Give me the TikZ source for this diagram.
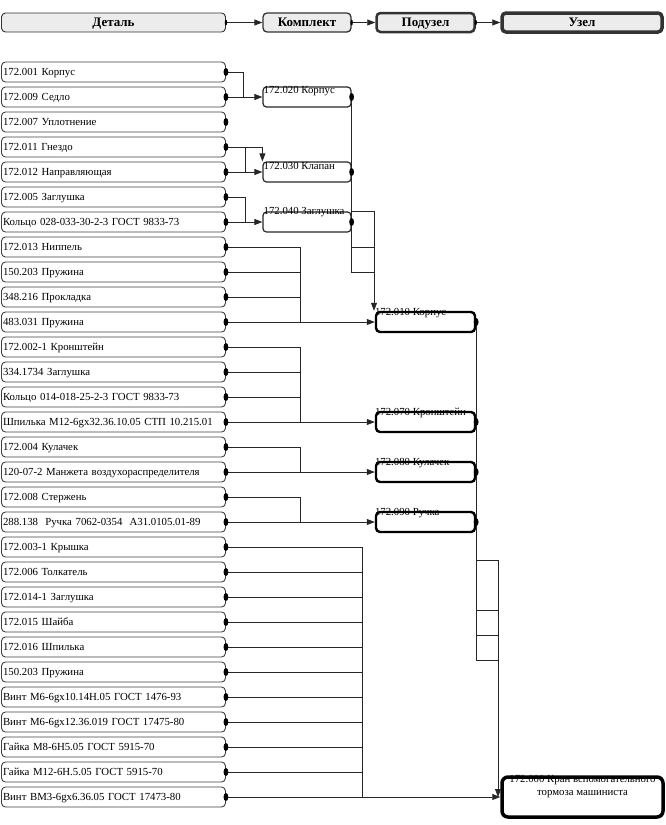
\documentclass[tikz,border=0pt]{standalone}
\usepackage{fontspec}
\setmainfont{Liberation Serif}
\usetikzlibrary{arrows.meta,calc}
\definecolor{hdrfill}{RGB}{236,236,236}
\newcommand\jdot[1]{\fill (#1) ellipse (2.4pt and 4pt);}
\newcommand\jstub[1]{\fill (#1) ellipse (1.2pt and 3pt);}
\begin{document}
\begin{tikzpicture}[x=1pt,y=-1pt,
  every node/.style={inner sep=0pt},
  conn/.style={line width=0.8pt, draw=black!85},
  conarrow/.style={-{Triangle[length=8pt,width=6pt]}},
  hbox/.style={draw=black!80, fill=hdrfill, rounded corners=4pt, minimum height=19pt, text height=9pt, text depth=2pt, font=\fontsize{13}{15}\selectfont\bfseries},
  dbox/.style={draw=black!75, line width=0.9pt, rounded corners=4pt, minimum width=224pt, minimum height=20pt, text width=221pt, text height=7pt, text depth=1pt, inner xsep=1.5pt, align=left, font=\fontsize{10.8}{12}\selectfont},
  kbox/.style={draw=black!85, line width=1.2pt, rounded corners=3.5pt, minimum width=88pt, minimum height=20pt},
  pbox/.style={draw=black, line width=2.4pt, rounded corners=4pt, minimum width=99pt, minimum height=20pt},
  ubox/.style={draw=black, line width=3.5pt, rounded corners=6pt, minimum width=161pt, minimum height=40pt},
  btext/.style={font=\fontsize{10.8}{12}\selectfont, anchor=west},
]
\useasboundingbox (0,0) rectangle (665,825);

% headers
\node[hbox, line width=0.9pt, minimum width=224pt] (h1) at (113.5,22.5) {Деталь};
\node[hbox, line width=1.3pt, minimum width=88pt] (h2) at (307,22.5) {Комплект};
\node[hbox, line width=2.5pt, minimum width=98pt] (h3) at (425.5,22.5) {Подузел};
\node[hbox, line width=3.5pt, minimum width=160pt] (h4) at (582,22.5) {Узел};
\draw[conn,conarrow] (h1.east) -- (h2.west);
\draw[conn,conarrow] (h2.east) -- (h3.west);
\draw[conn,conarrow] (h3.east) -- (h4.west);
\jstub{h1.east}\jstub{h2.east}\jstub{h3.east}

% details
\foreach \txt [count=\i] in {172.001 Корпус, 172.009 Седло, 172.007 Уплотнение, 172.011 Гнездо, 172.012 Направляющая, 172.005 Заглушка, Кольцо 028-033-30-2-3 ГОСТ 9833-73, 172.013 Ниппель, 150.203 Пружина, 348.216 Прокладка, 483.031 Пружина, 172.002-1 Кронштейн, 334.1734 Заглушка, Кольцо 014-018-25-2-3 ГОСТ 9833-73, Шпилька М12-6gх32.36.10.05 СТП 10.215.01, 172.004 Кулачек, 120-07-2 Манжета воздухораспределителя, 172.008 Стержень, 288.138\ \ Ручка 7062-0354\ \ А31.0105.01-89, 172.003-1 Крышка, 172.006 Толкатель, 172.014-1 Заглушка, 172.015 Шайба, 172.016 Шпилька, 150.203 Пружина, Винт М6-6gх10.14Н.05 ГОСТ 1476-93, Винт М6-6gх12.36.019 ГОСТ 17475-80, Гайка М8-6Н5.05 ГОСТ 5915-70, Гайка М12-6Н.5.05 ГОСТ 5915-70, Винт ВМ3-6gх6.36.05 ГОСТ 17473-80}
  {\node[dbox] (d\i) at (113.5,47+25*\i) {\txt};}

% komplekt boxes
\node[kbox] (k1) at (307,97) {};
\node[kbox] (k2) at (307,172) {};
\node[kbox] (k3) at (307,222) {};
\node[btext, xshift=1pt, yshift=-5pt] (k1t) at (k1.north west) {172.020 Корпус};
\node[btext, xshift=1pt, yshift=-5pt] (k2t) at (k2.north west) {172.030 Клапан};
\node[btext, xshift=1pt, yshift=-1pt] (k3t) at (k3.north west) {172.040 Заглушка};

% podusel boxes
\node[pbox] (p1) at (425.5,322) {};
\node[pbox] (p2) at (425.5,422) {};
\node[pbox] (p3) at (425.5,472) {};
\node[pbox] (p4) at (425.5,522) {};
\node[btext, yshift=-2pt] (p1t) at (p1.north west) {172.010 Корпус};
\node[btext, yshift=-2pt] (p2t) at (p2.north west) {172.070 Кронштейн};
\node[btext, yshift=-2pt] (p3t) at (p3.north west) {172.080 Кулачек};
\node[btext, yshift=-2pt] (p4t) at (p4.north west) {172.090 Ручка};

% uzel box
\node[ubox] (u) at (582.5,797) {};
\node[font=\fontsize{10.8}{12}\selectfont] (ut1) at ($(u.north)+(0,4.5)$) {172.000 Кран вспомогательного};
\node[font=\fontsize{10.8}{12}\selectfont] (ut2) at ($(u.north)+(0,19)$) {тормоза машиниста};

% bus coordinates
\coordinate (c243) at (243,0);
\coordinate (c245) at (245,0);
\coordinate (c300) at (300,0);
\coordinate (c362) at (362,0);
\coordinate (c374) at (374,0);
\coordinate (j1) at (498,560);
\coordinate (j2) at (498,610);
\coordinate (j3) at (498,635);
\coordinate (j4) at (498,660);

% group 1
\draw[conn] (d1.east) -| (c243 |- d2.east);
\draw[conn,conarrow] (d2.east) -- (k1.west);
% group 2
\draw[conn,conarrow] (d4.east) -| (k2.north west);
\draw[conn] (d4.east) -| (c245 |- d5.east);
\draw[conn,conarrow] (d5.east) -- (k2.west);
% group 3
\draw[conn] (d6.east) -| (c245 |- d7.east);
\draw[conn,conarrow] (d7.east) -- (k3.west);

% komplekt -> podusel
\draw[conn] (k1.east) -- (k1.east |- d9.east) -- (c374 |- d9.east);
\draw[conn] (k2.east) -- (k2.east |- d8.east) -- (c374 |- d8.east);
\draw[conn,conarrow] (k3.north east) -- (c374 |- k3.north) -- (c374 |- p1.north);

% group 4
\foreach \i in {8,9,10} \draw[conn] (d\i.east) -- (c300 |- d\i.east);
\draw[conn] (c300 |- d8.east) -- (c300 |- d11.east);
\draw[conn,conarrow] (d11.east) -- (p1.west);
% group 5
\foreach \i in {12,13,14} \draw[conn] (d\i.east) -- (c300 |- d\i.east);
\draw[conn] (c300 |- d12.east) -- (c300 |- d15.east);
\draw[conn,conarrow] (d15.east) -- (p2.west);
% group 6
\draw[conn] (d16.east) -| (c300 |- d17.east);
\draw[conn,conarrow] (d17.east) -- (p3.west);
% group 7
\draw[conn] (d18.east) -| (c300 |- d19.east);
\draw[conn,conarrow] (d19.east) -- (p4.west);
% group 8
\foreach \i in {20,...,29} \draw[conn] (d\i.east) -- (c362 |- d\i.east);
\draw[conn] (c362 |- d20.east) -- (c362 |- d30.east);
\draw[conn,conarrow] (d30.east) -- (u.west);

% podusel -> uzel
\draw[conn] (p1.east) |- (j4);
\draw[conn] (p2.east) |- (j3);
\draw[conn] (p3.east) |- (j2);
\draw[conn] (p4.east) |- (j1);
\draw[conn,conarrow] (j1) -- (j1 |- u.west);

% dots
\foreach \i in {1,...,30} {\jdot{d\i.east}}
\jdot{k1.east}\jdot{k2.east}\jdot{k3.east}
\jdot{p1.east}\jdot{p2.east}\jdot{p3.east}\jdot{p4.east}
\end{tikzpicture}
\end{document}
